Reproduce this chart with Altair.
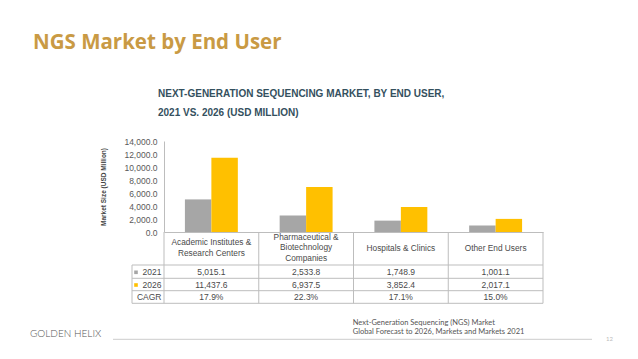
import altair as alt
import pandas as pd

categories = ["Academic Institutes & Research Centers",
              "Pharmaceutical & Biotechnology Companies",
              "Hospitals & Clinics",
              "Other End Users"]
cat_labels = ["Academic Institutes &\nResearch Centers",
              "Pharmaceutical &\nBiotechnology\nCompanies",
              "Hospitals & Clinics",
              "Other End Users"]
years = ["2021", "2026"]
v2021 = [5015.1, 2533.8, 1748.9, 1001.1]
v2026 = [11437.6, 6937.5, 3852.4, 2017.1]
cagr = ["17.9%", "22.3%", "17.1%", "15.0%"]
y_ticks = [0, 2000, 4000, 6000, 8000, 10000, 12000, 14000]

GRAY = "#A6A6A6"
GOLD = "#FFC000"
LINE = "#BDBDBD"
TXT = "#4A4A4A"
FONT = "Liberation Sans"

bars_df = pd.DataFrame({
    "cat": categories * 2,
    "year": [years[0]] * 4 + [years[1]] * 4,
    "value": v2021 + v2026,
})
table_df = pd.DataFrame({
    "cat": categories,
    "label": cat_labels,
    "nlines": [len(l.split("\n")) for l in cat_labels],
    "t2021": [f"{v:,.1f}" for v in v2021],
    "t2026": [f"{v:,.1f}" for v in v2026],
    "cagr": cagr,
})
last_df = table_df.iloc[[-1]]

xenc = alt.X("cat:N", sort=categories,
             scale=alt.Scale(paddingInner=0, paddingOuter=0),
             axis=alt.Axis(labels=False, ticks=False, title=None,
                           domainColor=LINE, domainWidth=1))

bars = alt.Chart(bars_df).mark_bar().encode(
    x=xenc,
    xOffset=alt.XOffset("year:N", sort=years,
                        scale=alt.Scale(paddingInner=0, paddingOuter=0.79)),
    y=alt.Y("value:Q",
            scale=alt.Scale(domain=[0, 14000], nice=False),
            axis=alt.Axis(values=y_ticks, format=",.1f", grid=False, ticks=False,
                          title=None, labelPadding=7, labelFontSize=8.5,
                          labelColor="#595959", labelFont=FONT,
                          domainColor=LINE)),
    color=alt.Color("year:N", sort=years,
                    scale=alt.Scale(domain=years, range=[GRAY, GOLD]),
                    legend=None),
)

base_t = alt.Chart(table_df)

# vertical table lines
vlines = base_t.mark_rule(color=LINE, strokeWidth=1).encode(
    x=alt.X("cat:N", sort=categories, bandPosition=0),
    y=alt.value(91), y2=alt.value(162.3))
vlast = alt.Chart(last_df).mark_rule(color=LINE, strokeWidth=1).encode(
    x=alt.X("cat:N", sort=categories, bandPosition=1),
    y=alt.value(91), y2=alt.value(162.3))
vleft = alt.Chart(last_df).mark_rule(color=LINE, strokeWidth=1).encode(
    x=alt.value(-32), y=alt.value(124), y2=alt.value(162.3))

row_lines = [124, 137.3, 149.7, 162.3]
hlines = [
    alt.Chart(pd.DataFrame({"k": [r]})).mark_rule(color=LINE, strokeWidth=1).encode(
        x=alt.value(-32), x2=alt.value(379), y=alt.value(r))
    for r in row_lines
]

LH = 10.8
CENTER = 107.5
cat_texts = [
    base_t.transform_filter(alt.datum.nlines == n).mark_text(
        fontSize=8.3, font=FONT, color=TXT, lineBreak="\n",
        lineHeight=LH, baseline="middle").encode(
        x=alt.X("cat:N", sort=categories),
        y=alt.value(CENTER - (n - 1) * LH / 2), text="label:N")
    for n in sorted(set(table_df["nlines"]))
]

row_y = {"t2021": 131.3, "t2026": 144, "cagr": 156.3}
val_texts = [
    base_t.mark_text(fontSize=8.5, font=FONT, color=TXT, baseline="middle").encode(
        x=alt.X("cat:N", sort=categories), y=alt.value(yv), text=f"{col}:N")
    for col, yv in row_y.items()
]

row_labels = ["2021", "2026", "CAGR"]
row_lbls = [
    alt.Chart(pd.DataFrame({"lbl": [l]})).mark_text(
        fontSize=8.5, font=FONT, color=TXT, align="right", baseline="middle").encode(
        x=alt.value(-2.5), y=alt.value(yv), text="lbl:N")
    for l, yv in zip(row_labels, row_y.values())
]
swatches = [
    alt.Chart(pd.DataFrame({"year": [yr]})).mark_square(size=13, opacity=1).encode(
        x=alt.value(-28), y=alt.value(yv),
        color=alt.Color("year:N", sort=years,
                        scale=alt.Scale(domain=years, range=[GRAY, GOLD]), legend=None))
    for yr, yv in zip(years, [131.3, 144])
]


def label(txt, x, y, **kw):
    return alt.Chart(pd.DataFrame({"t": [txt]})).mark_text(**kw).encode(
        x=alt.value(x), y=alt.value(y), text="t:N")


title = label("NGS Market by End User", -131, -98, fontSize=20.5, font="Open Sans",
              fontWeight="bold", color="#C99A44", align="left", baseline="middle")
sub1 = label("NEXT-GENERATION SEQUENCING MARKET, BY END USER,", -6, -47,
             fontSize=10, font=FONT, fontWeight="bold", color="#34505E",
             align="left", baseline="middle")
sub2 = label("2021 VS. 2026 (USD MILLION)", -6, -28,
             fontSize=10, font=FONT, fontWeight="bold", color="#34505E",
             align="left", baseline="middle")
ytitle = label("Market Size (USD Million)", -60, 46, fontSize=6.5, font=FONT,
               fontWeight="bold", color="#444444", angle=270, align="center",
               baseline="middle")
foot1 = label("Next-Generation Sequencing (NGS) Market", 188.7, 181.7, fontSize=7.5,
              font="Lato", color="#555555", align="left", baseline="middle")
foot2 = label("Global Forecast to 2026, Markets and Markets 2021", 188.7, 191.3,
              fontSize=7.5, font="Lato", color="#555555", align="left",
              baseline="middle")
pagenum = label("12", 442, 198.3, fontSize=6, font="Lato", color="#BBBBBB",
                align="left", baseline="middle")
logo = label("GOLDEN HELIX", -134, 193, fontSize=10, font="Lato", fontWeight=300,
             color="#555555", align="left", baseline="middle")
bottom_rule = alt.Chart(pd.DataFrame({"k": [0]})).mark_rule(
    color="#CCCCCC", strokeWidth=1).encode(
    x=alt.value(-51), x2=alt.value(428), y=alt.value(198.3))

chart = alt.layer(
    vlines, vlast, vleft, *hlines, bars, *cat_texts, *val_texts, *row_lbls, *swatches,
    title, sub1, sub2, ytitle, foot1, foot2, pagenum, logo, bottom_rule,
).properties(
    width=379, height=91,
    background="white",
    autosize=alt.AutoSizeParams(type="none"),
    padding={"left": 156, "top": 133, "right": 87, "bottom": 119},
).configure_view(stroke=None)

chart.save("out.html", embed_options={"renderer": "svg", "actions": False})
